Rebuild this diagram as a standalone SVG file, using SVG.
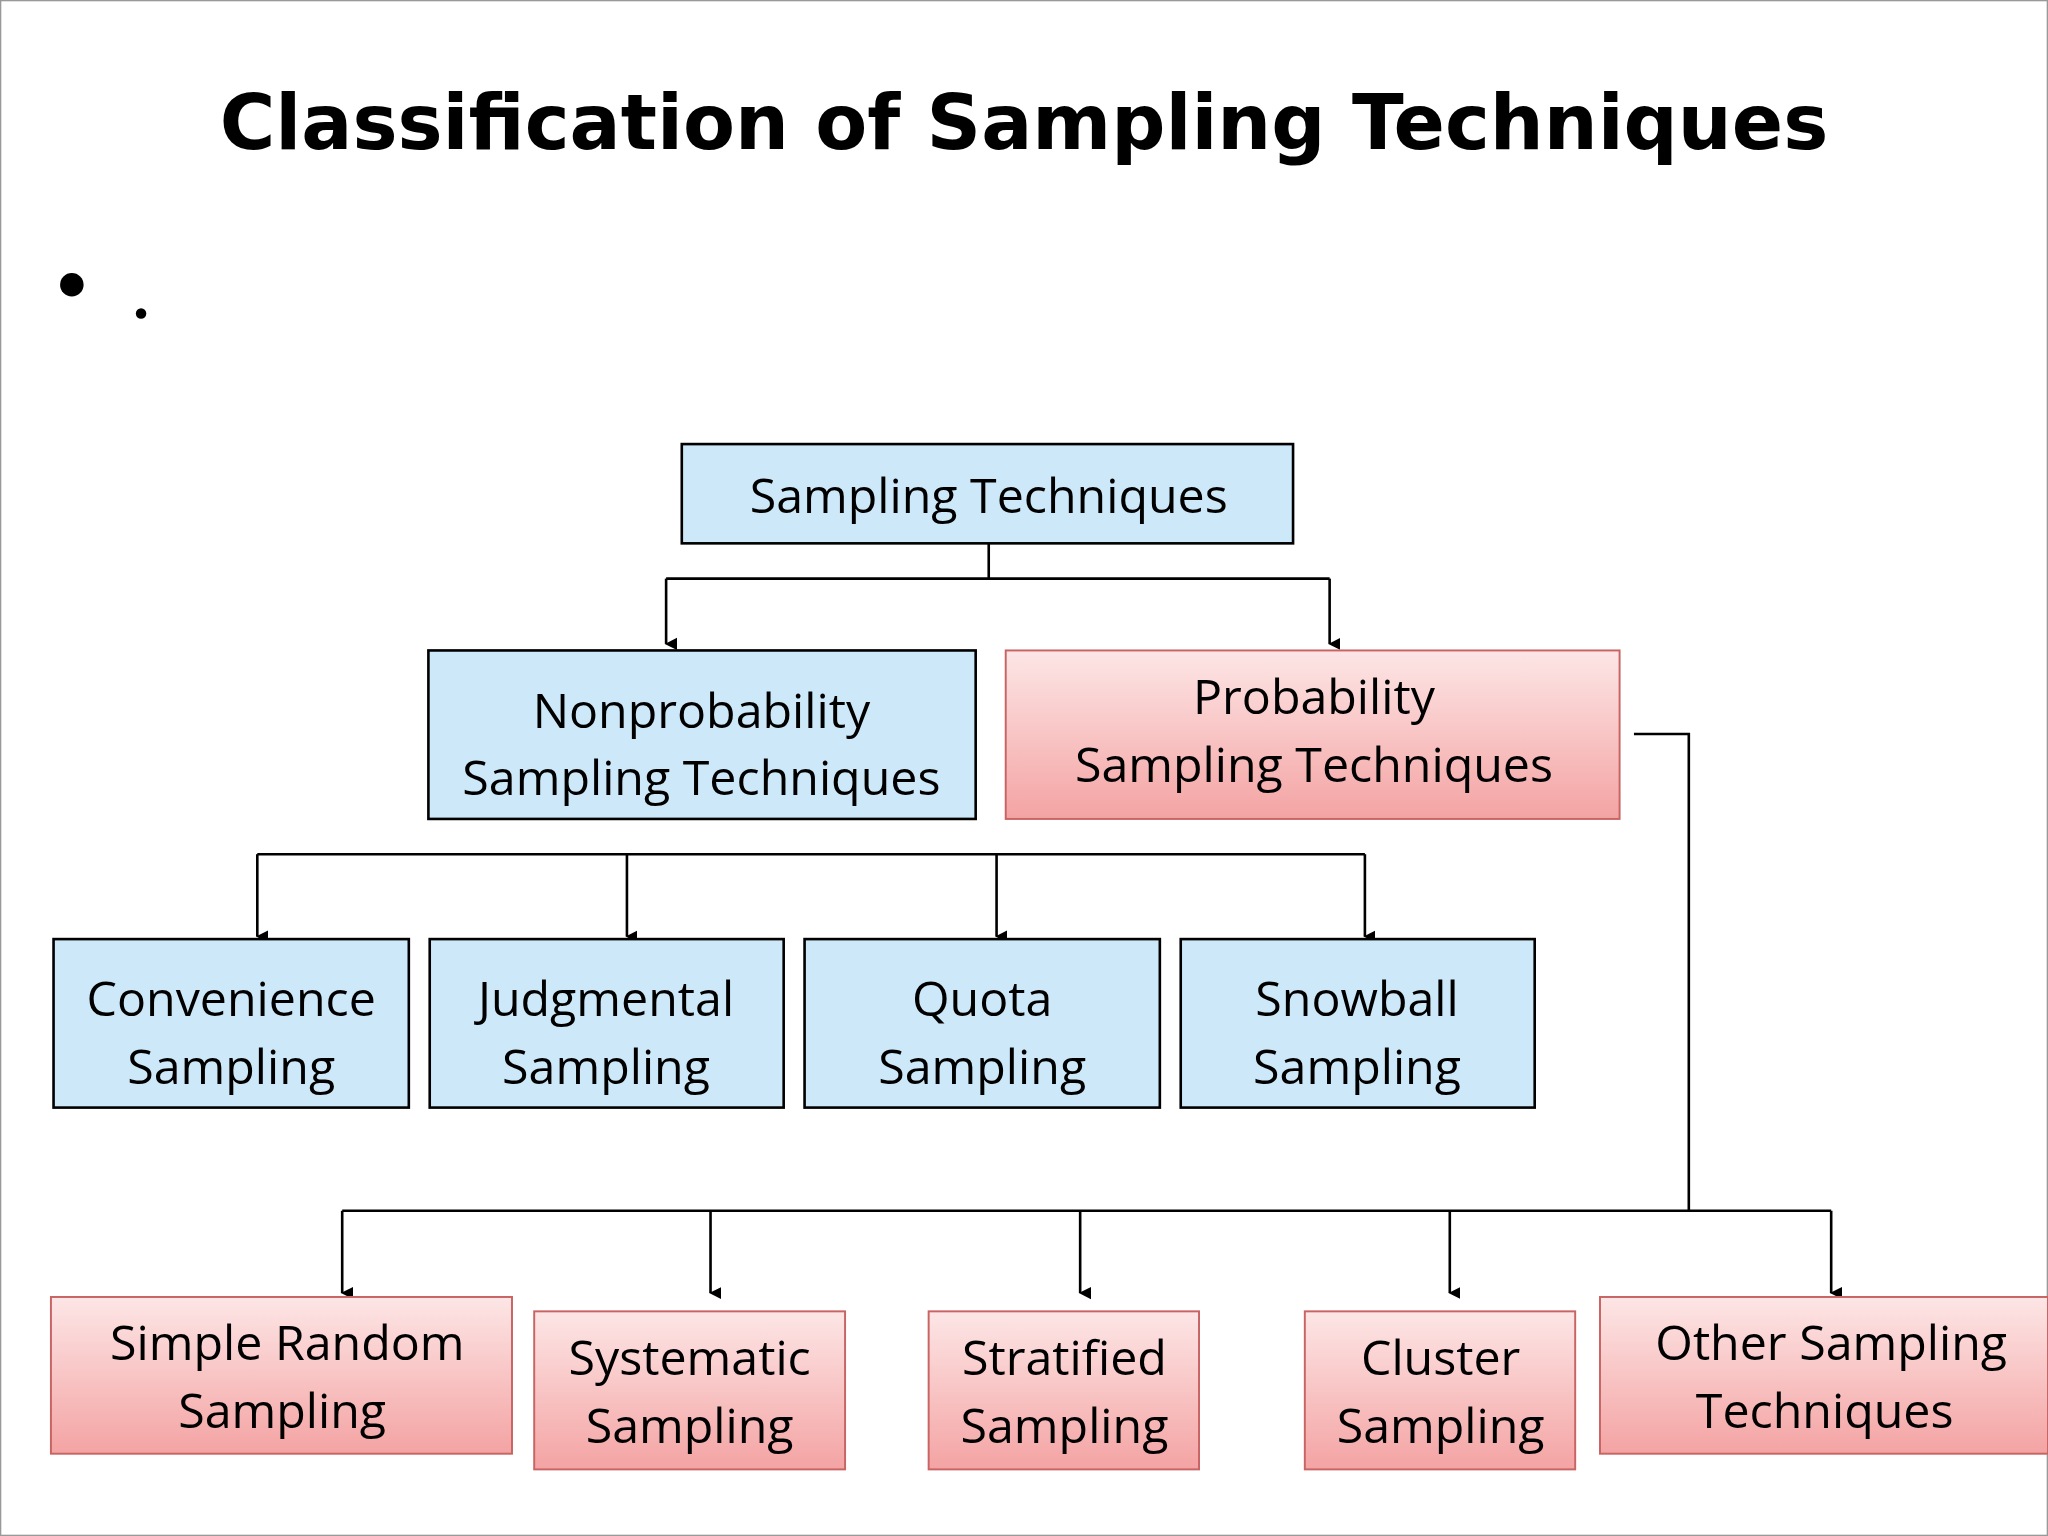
<svg xmlns="http://www.w3.org/2000/svg" width="2048" height="1536" viewBox="0 0 2048 1536">
<defs>
<linearGradient id="pk" x1="0" y1="0" x2="0" y2="1"><stop offset="0" stop-color="#fde6e6"/><stop offset="1" stop-color="#f4a3a3"/></linearGradient>
<marker id="ar" markerWidth="10" markerHeight="10" refX="5" refY="8" orient="auto" markerUnits="userSpaceOnUse"><path d="M0,0 L10,0 L5,10 Z" transform="translate(0,-1)" fill="#000"/></marker>
</defs>
<style>
.b{fill:#cde9f9;stroke:#000;stroke-width:2}
.p{fill:url(#pk);stroke:#c86464;stroke-width:1.5}
.t{font-family:"Open Sans","Liberation Sans",sans-serif;font-size:37px;text-anchor:middle;fill:#000}
.c{fill:none;stroke:#000;stroke-width:2}
</style>
<rect width="2048" height="1536" fill="#fff"/>
<g transform="scale(1.30612)">
<rect x="0.5" y="0.5" width="1567" height="1175" fill="none" stroke="#999"/>
<text x="784" y="114" font-family="'DejaVu Sans',Verdana,sans-serif" font-weight="bold" font-size="58" text-anchor="middle">Classification of Sampling Techniques</text>
<circle cx="55" cy="218" r="9"/>
<circle cx="108" cy="240" r="4"/>
<g id="connectors">
<path class="c" d="M757,416 V443 M510,443 H1018"/>
<path class="c" d="M510,443 V493" marker-end="url(#ar)"/>
<path class="c" d="M1018,443 V493" marker-end="url(#ar)"/>
<path class="c" d="M197,654 H1045"/>
<path class="c" d="M197,654 V717" marker-end="url(#ar)"/>
<path class="c" d="M480,654 V717" marker-end="url(#ar)"/>
<path class="c" d="M763,654 V717" marker-end="url(#ar)"/>
<path class="c" d="M1045,654 V717" marker-end="url(#ar)"/>
<path class="c" d="M1251,562 H1293 V927 M262,927 H1402"/>
<path class="c" d="M262,927 V990" marker-end="url(#ar)"/>
<path class="c" d="M544,927 V990" marker-end="url(#ar)"/>
<path class="c" d="M827,927 V990" marker-end="url(#ar)"/>
<path class="c" d="M1110,927 V990" marker-end="url(#ar)"/>
<path class="c" d="M1402,927 V990" marker-end="url(#ar)"/>
</g>
<g id="root"><rect class="b" x="522" y="340" width="468" height="76"/><text class="t" x="757" y="393">Sampling Techniques</text></g>
<g id="nonprob"><rect class="b" x="328" y="498" width="419" height="129"/><text class="t" x="537" y="557">Nonprobability</text><text class="t" x="537" y="609">Sampling Techniques</text></g>
<g id="prob"><rect class="p" x="770" y="498" width="470" height="129"/><text class="t" x="1006" y="547">Probability</text><text class="t" x="1006" y="599">Sampling Techniques</text></g>
<g id="convenience"><rect class="b" x="41" y="719" width="272" height="129"/><text class="t" x="177" y="778">Convenience</text><text class="t" x="177" y="830">Sampling</text></g>
<g id="judgmental"><rect class="b" x="329" y="719" width="271" height="129"/><text class="t" x="464" y="778">Judgmental</text><text class="t" x="464" y="830">Sampling</text></g>
<g id="quota"><rect class="b" x="616" y="719" width="272" height="129"/><text class="t" x="752" y="778">Quota</text><text class="t" x="752" y="830">Sampling</text></g>
<g id="snowball"><rect class="b" x="904" y="719" width="271" height="129"/><text class="t" x="1039" y="778">Snowball</text><text class="t" x="1039" y="830">Sampling</text></g>
<g id="simple"><rect class="p" x="39" y="993" width="353" height="120"/><text class="t" x="220" y="1041">Simple Random</text><text class="t" x="216" y="1093">Sampling</text></g>
<g id="systematic"><rect class="p" x="409" y="1004" width="238" height="121"/><text class="t" x="528" y="1053">Systematic</text><text class="t" x="528" y="1105">Sampling</text></g>
<g id="stratified"><rect class="p" x="711" y="1004" width="207" height="121"/><text class="t" x="815" y="1053">Stratified</text><text class="t" x="815" y="1105">Sampling</text></g>
<g id="cluster"><rect class="p" x="999" y="1004" width="207" height="121"/><text class="t" x="1103" y="1053">Cluster</text><text class="t" x="1103" y="1105">Sampling</text></g>
<g id="other"><rect class="p" x="1225" y="993" width="343" height="120"/><text class="t" x="1402" y="1041">Other Sampling</text><text class="t" x="1397" y="1093">Techniques</text></g>
</g>
</svg>
